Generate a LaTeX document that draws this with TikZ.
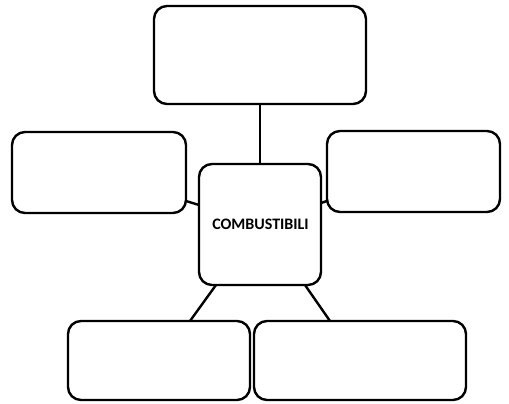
\documentclass[tikz,border=0pt]{standalone}
\usepackage{fontspec}
\newfontfamily\calib{Carlito}
\begin{document}
\begin{tikzpicture}[x=1pt,y=-1pt,
  box/.style={draw=black,line width=2.4pt,rounded corners=13pt},
  conn/.style={draw=black,line width=2.4pt}]
\useasboundingbox[fill=white] (0,0) rectangle (509,404);
\draw[box] (154,6) rectangle (366,104);
\draw[box] (12,132) rectangle (186,213);
\draw[box] (327,131) rectangle (500,212);
\draw[box] (199,164) rectangle (321,285);
\draw[box] (68,321) rectangle (250,400);
\draw[box] (254,321) rectangle (466,400);
\node[inner sep=0pt,font=\calib\bfseries\fontsize{16}{18}\selectfont] (c) at (260.5,224) {COMBUSTIBILI};
\coordinate (t1) at (260,104); \coordinate (t2) at (260,164);
\draw[conn] (t1) -- (t2);
\coordinate (l1) at (186,201); \coordinate (l2) at (199,205);
\draw[conn] (l1) -- (l2);
\coordinate (r1) at (321,203); \coordinate (r2) at (327,201);
\draw[conn] (r1) -- (r2);
\coordinate (b1) at (216,285); \coordinate (b2) at (190,321);
\draw[conn] (b1) -- (b2);
\coordinate (b3) at (305,285); \coordinate (b4) at (330,321);
\draw[conn] (b3) -- (b4);
\end{tikzpicture}
\end{document}
